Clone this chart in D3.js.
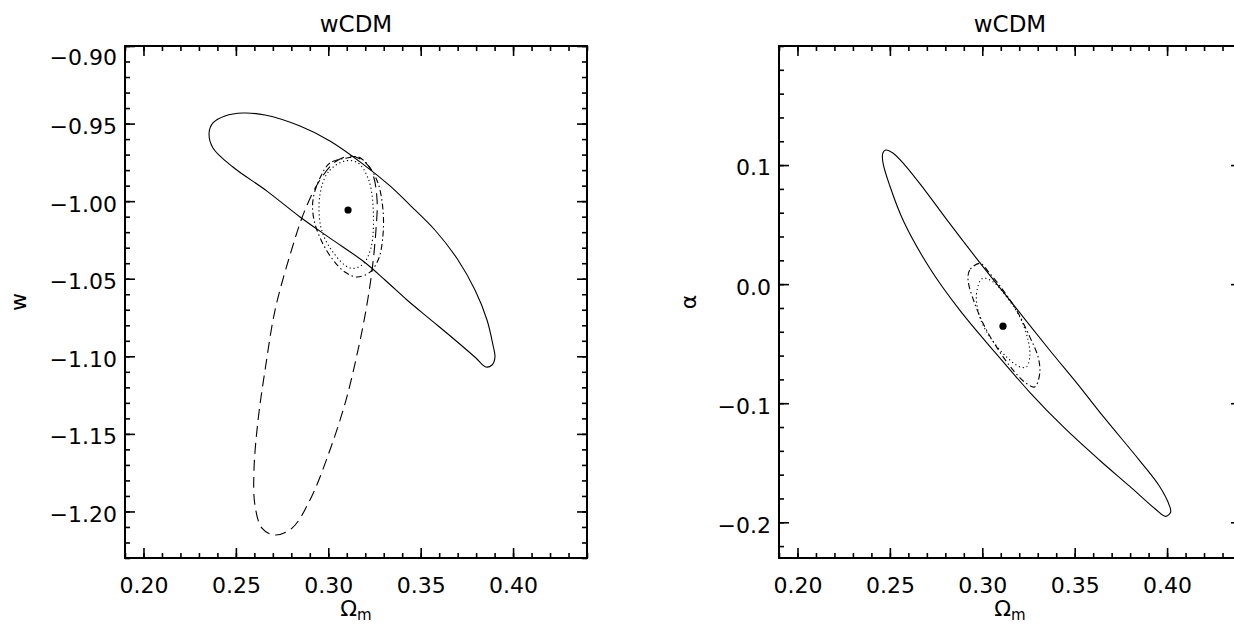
<!DOCTYPE html>
<html>
<head>
<meta charset="utf-8">
<script src="https://cdn.jsdelivr.net/npm/d3@7"></script>
<style>
  body { margin: 0; background: #fff; }
  svg { display: block; }
  text { font-family: "DejaVu Sans", sans-serif; fill: #000; }
</style>
</head>
<body>
<svg id="chart" width="1234" height="628"></svg>
<script>
// ---- axis ranges and tick labels ----
const omegaRange = [0.19, 0.44];
const wRange = [-1.23, -0.90];
const alphaRange = [-0.23, 0.20];
const omegaTicks = [0.20, 0.25, 0.30, 0.35, 0.40];
const wTicks = [-0.90, -0.95, -1.00, -1.05, -1.10, -1.15, -1.20];
const alphaTicks = [0.1, 0.0, -0.1, -0.2];
const panelTitles = ["wCDM", "wCDM"];

// ---- best-fit points [Omega_m, parameter] ----
const bestFitW = [0.3107, -1.0057];
const bestFitAlpha = [0.3112, -0.0353];

// ---- confidence contours, left panel (Omega_m, w) ----
const wSolid = [
  [0.2355,-0.9561],[0.2376,-0.9496],[0.2441,-0.9451],[0.2539,-0.9432],[0.2658,-0.9445],
  [0.2847,-0.9516],[0.3009,-0.9612],[0.3188,-0.9761],[0.3334,-0.9902],[0.3442,-1.0025],
  [0.3577,-1.0186],[0.3702,-1.0379],[0.3794,-1.0573],[0.3859,-1.0766],[0.3891,-1.0927],
  [0.3902,-1.1005],[0.3886,-1.1056],[0.3853,-1.1069],[0.3799,-1.1011],[0.3686,-1.0895],
  [0.3550,-1.0760],[0.3426,-1.0637],[0.3307,-1.0508],[0.3188,-1.0386],[0.3009,-1.0238],
  [0.2847,-1.0102],[0.2668,-0.9935],[0.2484,-0.9780],[0.2376,-0.9657]
];
const wDashed = [
  [0.3118,-0.9709],[0.3199,-0.9748],[0.3242,-0.9831],[0.3264,-0.9993],[0.3258,-1.0186],
  [0.3237,-1.0444],[0.3204,-1.0702],[0.3161,-1.0959],[0.3096,-1.1282],[0.3009,-1.1604],
  [0.2901,-1.1926],[0.2804,-1.2107],[0.2712,-1.2152],[0.2641,-1.2107],[0.2603,-1.1958],
  [0.2598,-1.1733],[0.2620,-1.1411],[0.2658,-1.1088],[0.2712,-1.0702],[0.2793,-1.0347],
  [0.2874,-1.0057],[0.2955,-0.9864],[0.3036,-0.9748]
];
const wDashDot = [
  [0.3101,-0.9722],[0.3009,-0.9754],[0.2955,-0.9851],[0.2917,-0.9993],[0.2923,-1.0122],
  [0.2966,-1.0263],[0.3026,-1.0379],[0.3090,-1.0457],[0.3155,-1.0489],[0.3226,-1.0457],
  [0.3274,-1.0366],[0.3296,-1.0218],[0.3296,-1.0057],[0.3269,-0.9883],[0.3215,-0.9767],
  [0.3161,-0.9715]
];
const wDotted = [
  [0.3090,-0.9741],[0.3000,-0.9812],[0.2955,-0.9960],[0.2961,-1.0173],[0.3025,-1.0328],
  [0.3118,-1.0431],[0.3182,-1.0412],[0.3231,-1.0302],[0.3242,-1.0025],[0.3215,-0.9851],
  [0.3161,-0.9754]
];

// ---- confidence contours, right panel (Omega_m, alpha) ----
const alphaSolid = [
  [0.2478,0.1126],[0.2516,0.1101],[0.2581,0.1000],[0.2689,0.0790],[0.2814,0.0529],
  [0.2976,0.0202],[0.3170,-0.0176],[0.3365,-0.0555],[0.3516,-0.0840],[0.3662,-0.1126],
  [0.3846,-0.1471],[0.3959,-0.1697],[0.4014,-0.1866],[0.4019,-0.1916],[0.3992,-0.1950],
  [0.3938,-0.1891],[0.3797,-0.1697],[0.3635,-0.1479],[0.3446,-0.1210],[0.3257,-0.0908],
  [0.3068,-0.0571],[0.2878,-0.0218],[0.2716,0.0134],[0.2576,0.0521],[0.2500,0.0824],
  [0.2462,0.1025],[0.2462,0.1101]
];
const alphaDashDot = [
  [0.2987,0.0174],[0.2932,0.0118],[0.2923,0.0034],[0.2959,-0.0162],[0.3014,-0.0359],
  [0.3077,-0.0527],[0.3167,-0.0723],[0.3239,-0.0834],[0.3284,-0.0863],[0.3311,-0.0750],
  [0.3302,-0.0611],[0.3257,-0.0443],[0.3185,-0.0218],[0.3112,-0.0050],[0.3041,0.0090]
];
const alphaDotted = [
  [0.3001,0.0048],[0.2969,-0.0078],[0.2986,-0.0275],[0.3041,-0.0443],[0.3131,-0.0611],
  [0.3203,-0.0695],[0.3239,-0.0695],[0.3257,-0.0611],[0.3248,-0.0471],[0.3203,-0.0275],
  [0.3131,-0.0107],[0.3058,0.0020]
];

// ---- drawing ----
const svg = d3.select("#chart");
const FONT = 22;

const styles = {
  solid:   { dash: null },
  dashed:  { dash: "11,6" },
  dashdot: { dash: "6,3,1.5,3" },
  dotted:  { dash: "1.2,2.8" }
};

const axisMakers = { bottom: d3.axisBottom, top: d3.axisTop, left: d3.axisLeft, right: d3.axisRight };

function drawPanel(cfg) {
  const g = svg.append("g");
  const x = d3.scaleLinear().domain(omegaRange).range([cfg.left, cfg.right]);
  const y = d3.scaleLinear().domain(cfg.yRange).range([cfg.bottom, cfg.top]);

  const clipId = "clip" + cfg.id;
  svg.append("clipPath").attr("id", clipId)
    .append("rect")
    .attr("x", cfg.left).attr("y", cfg.top)
    .attr("width", cfg.right - cfg.left).attr("height", cfg.bottom - cfg.top);

  const line = d3.line()
    .x(d => x(d[0])).y(d => y(d[1]))
    .curve(d3.curveCatmullRomClosed.alpha(0.5));

  const plot = g.append("g").attr("clip-path", `url(#${clipId})`);
  cfg.contours.forEach(c => {
    plot.append("path")
      .attr("d", line(c.pts))
      .attr("fill", "none")
      .attr("stroke", "#000")
      .attr("stroke-width", 1.1)
      .attr("stroke-dasharray", styles[c.style].dash);
  });
  plot.append("circle")
    .attr("cx", x(cfg.best[0])).attr("cy", y(cfg.best[1]))
    .attr("r", 3.6).attr("fill", "#000");

  // minor tick positions
  const minorX = d3.range(19, 45).map(v => v / 100);
  const minorY = d3.range(Math.round(cfg.yRange[0] / cfg.minorStep), Math.round(cfg.yRange[1] / cfg.minorStep) + 1)
    .map(v => +(v * cfg.minorStep).toFixed(4));

  const axes = [
    { side: "bottom", scale: x, tr: `translate(0,${cfg.bottom})`, major: omegaTicks, minor: minorX, labels: true, pad: 19, fmt: d3.format(".2f") },
    { side: "top",    scale: x, tr: `translate(0,${cfg.top})`,    major: omegaTicks, minor: minorX, labels: false },
    { side: "left",   scale: y, tr: `translate(${cfg.left},0)`,   major: cfg.ticks,  minor: minorY, labels: true, pad: 8, fmt: cfg.fmt },
    { side: "right",  scale: y, tr: `translate(${cfg.right},0)`,  major: cfg.ticks,  minor: minorY, labels: false }
  ];

  axes.forEach(a => {
    const mk = axisMakers[a.side];
    // minor ticks
    const gm = g.append("g").attr("transform", a.tr)
      .call(mk(a.scale).tickValues(a.minor).tickSizeInner(-5).tickSizeOuter(0).tickFormat(""));
    gm.select(".domain").remove();
    gm.selectAll("line").attr("stroke-width", 1.6);
    // major ticks
    const ax = mk(a.scale).tickValues(a.major).tickSizeInner(-10).tickSizeOuter(0);
    if (a.labels) ax.tickPadding(a.pad).tickFormat(a.fmt); else ax.tickFormat("");
    const gM = g.append("g").attr("transform", a.tr).call(ax);
    gM.select(".domain").remove();
    gM.selectAll("line").attr("stroke-width", 1.6);
    gM.attr("font-size", FONT).attr("font-family", "DejaVu Sans");
    if (a.side === "left") {
      gM.selectAll("text")
        .attr("dy", d => (Math.abs(y(d) - cfg.top) < 1 ? "0.85em" : "0.45em"));
    }
  });

  // frame
  g.append("rect")
    .attr("x", cfg.left).attr("y", cfg.top)
    .attr("width", cfg.right - cfg.left).attr("height", cfg.bottom - cfg.top)
    .attr("fill", "none").attr("stroke", "#000").attr("stroke-width", 2);

  const cx = (cfg.left + cfg.right) / 2;
  // title
  g.append("text")
    .attr("x", cx).attr("y", 32)
    .attr("text-anchor", "middle")
    .attr("font-size", 23)
    .text(cfg.title);

  // x axis title: Omega_m
  const xt = g.append("text")
    .attr("x", cx).attr("y", 616)
    .attr("text-anchor", "middle")
    .attr("font-size", FONT);
  xt.append("tspan").text("Ω");
  xt.append("tspan").attr("font-size", 15).attr("dy", 4).text("m");

  // y axis title
  const cy = (cfg.top + cfg.bottom) / 2;
  g.append("text")
    .attr("transform", `translate(${cfg.yTitleX},${cy}) rotate(-90)`)
    .attr("text-anchor", "middle")
    .attr("dominant-baseline", "central")
    .attr("font-size", FONT)
    .text(cfg.yTitle);
}

drawPanel({
  id: "L", left: 125, right: 587, top: 46, bottom: 558,
  yRange: wRange, ticks: wTicks, minorStep: 0.01, fmt: d3.format(".2f"),
  title: panelTitles[0], yTitle: "w", yTitleX: 18, best: bestFitW,
  contours: [
    { pts: wSolid, style: "solid" },
    { pts: wDashed, style: "dashed" },
    { pts: wDashDot, style: "dashdot" },
    { pts: wDotted, style: "dotted" }
  ]
});

drawPanel({
  id: "R", left: 779, right: 1241, top: 46, bottom: 558,
  yRange: alphaRange, ticks: alphaTicks, minorStep: 0.02, fmt: d3.format(".1f"),
  title: panelTitles[1], yTitle: "α", yTitleX: 688, best: bestFitAlpha,
  contours: [
    { pts: alphaSolid, style: "solid" },
    { pts: alphaDashDot, style: "dashdot" },
    { pts: alphaDotted, style: "dotted" }
  ]
});
</script>
</body>
</html>
